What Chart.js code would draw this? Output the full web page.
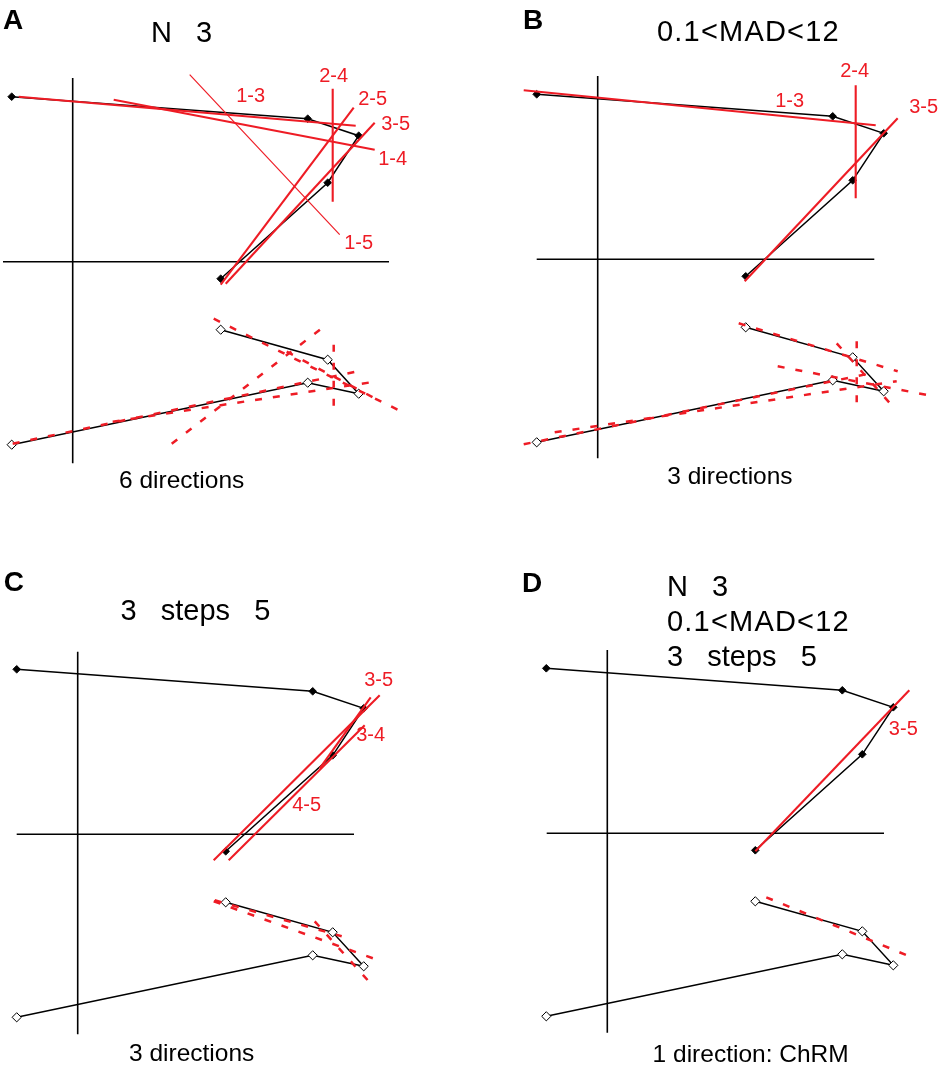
<!DOCTYPE html>
<html lang="en">
<head>
    <meta charset="UTF-8">
    <title>Zijderveld diagrams - fit selection</title>
    <style>
        body { margin: 0; background: #fff; }
        #page { position: relative; width: 945px; height: 1068px; overflow: hidden; font-family: Arial, "Liberation Sans", Helvetica, sans-serif; color: #000; }
        #page canvas { position: absolute; }
        .t { position: absolute; line-height: 1; white-space: pre; }
        .letter { font-size: 28px; font-weight: bold; }
        .title { font-size: 29px; }
        .caption { font-size: 24.5px; }
        .mad { letter-spacing: 1.2px; }
    </style>
</head>
<body>
<div id="page">
    <canvas id="chartA" width="472" height="534" style="left:0;top:0"></canvas>
    <canvas id="chartB" width="473" height="534" style="left:472px;top:0"></canvas>
    <canvas id="chartC" width="472" height="534" style="left:0;top:534px"></canvas>
    <canvas id="chartD" width="473" height="534" style="left:472px;top:534px"></canvas>

    <div class="t letter" style="left:3px;top:6.3px">A</div>
    <div class="t letter" style="left:523px;top:6.3px">B</div>
    <div class="t letter" style="left:3.8px;top:567.6px">C</div>
    <div class="t letter" style="left:522px;top:569px">D</div>

    <div class="t title" style="left:151px;top:18.1px">N   3</div>
    <div class="t title mad" style="left:657px;top:17.1px">0.1&lt;MAD&lt;12</div>
    <div class="t title" style="left:120.5px;top:595.5px">3   steps   5</div>
    <div class="t title" style="left:667px;top:568.5px;line-height:35px">N   3<br><span class="mad">0.1&lt;MAD&lt;12</span><br>3   steps   5</div>

    <div class="t caption" style="left:119px;top:467.6px">6 directions</div>
    <div class="t caption" style="left:667.3px;top:464.3px">3 directions</div>
    <div class="t caption" style="left:129px;top:1041px">3 directions</div>
    <div class="t caption" style="left:652.6px;top:1042px">1 direction: ChRM</div>
</div>

<script src="https://cdn.jsdelivr.net/npm/chart.js@4.4.1/dist/chart.umd.min.js"></script>
<script>

    // demagnetization steps 1..5 (same specimen in every panel)
    const steps = ['1', '2', '3', '4', '5'];
    const xVals = [-6.1, 23.5, 28.6, 25.5, 14.8];   // shared axis
    const yVals = [16.5, 14.3, 12.6, 7.9, -1.7];    // horizontal projection
    const zVals = [-18.3, -12.1, -13.2, -9.8, -6.8]; // vertical projection

    // fitted directions: [x1, y1, x2, y2] in the horizontal plane, [x1, z1, x2, z2] in the vertical plane
    const fitNamesA = ['1-3', '1-4', '1-5', '2-4', '2-5', '3-5'];
    const fitHorA = [
        [-5.4, 16.5, 28.3, 13.6],
        [4.1, 16.2, 30.2, 11.2],
        [11.7, 18.7, 26.7, 2.7],
        [26.0, 17.3, 26.0, 6.0],
        [28.1, 15.4, 14.8, -2.3],
        [30.2, 13.9, 15.3, -2.2]
    ];
    const fitVerA = [
        [-6.0, -18.2, 28.3, -11.0],
        [4.0, -16.0, 30.2, -12.0],
        [9.9, -18.2, 25.1, -6.5],
        [26.1, -8.3, 26.1, -14.7],
        [21.4, -9.0, 30.1, -13.6],
        [14.1, -5.7, 32.9, -15.0]
    ];
    const labelPosA = [[17.8, 16.5], [32.0, 10.2], [28.6, 1.8], [26.1, 18.5], [30.0, 16.2], [32.3, 13.7]];

    const fitNamesB = ['1-3', '2-4', '3-5'];
    const fitHorB = [
        [-7.4, 16.9, 27.8, 13.4],
        [25.8, 17.4, 25.8, 6.1],
        [30.0, 14.1, 14.7, -2.2]
    ];
    const fitVerB = [
        [-7.4, -18.5, 27.8, -11.3],
        [-4.3, -17.3, 29.9, -12.2],
        [25.9, -8.2, 25.9, -14.6],
        [14.1, -6.4, 30.0, -11.2],
        [23.9, -8.4, 29.4, -14.6],
        [18.0, -10.7, 33.1, -13.6]
    ];
    const labelPosB = [[19.2, 15.8], [25.7, 18.8], [32.6, 15.2]];

    const fitNamesC = ['3-5', '3-4', '4-5'];
    const fitHorC = [
        [30.2, 13.9, 13.6, -2.6],
        [29.3, 13.7, 24.2, 6.6],
        [28.7, 10.9, 15.1, -2.6]
    ];
    const fitVerC = [
        [13.6, -6.7, 30.1, -12.6],
        [23.7, -8.7, 29.1, -14.7],
        [13.7, -6.6, 26.4, -10.2]
    ];
    const labelPosC = [[30.1, 15.4], [29.3, 9.9], [22.9, 2.9]];

    const fitNamesD = ['3-5'];
    const fitHorD = [[30.2, 14.3, 14.8, -1.8]];
    const fitVerD = [[15.9, -6.4, 30.2, -12.3]];
    const labelPosD = [[29.6, 10.4]];

    const RED = '#ee1c25';

    // axis cross through the origin, with its own length on each side
    const axisCross = {
        id: 'axisCross',
        beforeDatasetsDraw(chart, args, opts) {
            const ctx = chart.ctx;
            const xs = chart.scales.x, ys = chart.scales.y;
            const x0 = xs.getPixelForValue(0), y0 = ys.getPixelForValue(0);
            ctx.save();
            ctx.strokeStyle = '#000';
            ctx.lineWidth = 1.6;
            ctx.beginPath();
            ctx.moveTo(xs.getPixelForValue(opts.h[0]), y0);
            ctx.lineTo(xs.getPixelForValue(opts.h[1]), y0);
            ctx.moveTo(x0, ys.getPixelForValue(opts.v[0]));
            ctx.lineTo(x0, ys.getPixelForValue(opts.v[1]));
            ctx.stroke();
            ctx.restore();
        }
    };

    // draws the "i-j" names of the fits
    const fitLabels = {
        id: 'fitLabels',
        afterDatasetsDraw(chart, args, opts) {
            const ctx = chart.ctx;
            const xs = chart.scales.x, ys = chart.scales.y;
            ctx.save();
            ctx.fillStyle = RED;
            ctx.font = '20px Arial, "Liberation Sans", sans-serif';
            ctx.textAlign = 'center';
            ctx.textBaseline = 'middle';
            opts.names.forEach((name, i) => {
                ctx.fillText(name, xs.getPixelForValue(opts.pos[i][0]), ys.getPixelForValue(opts.pos[i][1]));
            });
            ctx.restore();
        }
    };

    function segment(f) {
        return [{ x: f[0], y: f[1] }, { x: f[2], y: f[3] }];
    }

    function buildDatasets(names, fitHor, fitVer, thin) {
        const ds = [];
        fitHor.forEach((f, i) => {
            ds.push({
                data: segment(f), showLine: true, order: 0,
                borderColor: RED, borderWidth: thin.includes(names[i]) ? 1.2 : 2.1, pointRadius: 0
            });
        });
        fitVer.forEach(f => {
            ds.push({
                data: segment(f), showLine: true, order: 0,
                borderColor: RED, borderWidth: 2.5, borderDash: [7, 11], pointRadius: 0
            });
        });
        // horizontal projection: filled diamonds
        ds.push({
            data: steps.map((s, i) => ({ x: xVals[i], y: yVals[i] })),
            showLine: true, order: 1,
            borderColor: '#000', borderWidth: 1.5,
            pointStyle: 'rectRot', pointRadius: 3.8, pointBackgroundColor: '#000', pointBorderColor: '#000', pointBorderWidth: 1
        });
        // vertical projection: open diamonds
        ds.push({
            data: steps.map((s, i) => ({ x: xVals[i], y: zVals[i] })),
            showLine: true, order: 1,
            borderColor: '#000', borderWidth: 1.5,
            pointStyle: 'rectRot', pointRadius: 4.6, pointBackgroundColor: '#fff', pointBorderColor: '#000', pointBorderWidth: 1
        });
        return ds;
    }

    function makeChart(id, names, fitHor, fitVer, labelPos, thin, xRange, yRange, hAxis, vAxis) {
        new Chart(document.getElementById(id), {
            type: 'scatter',
            data: { datasets: buildDatasets(names, fitHor, fitVer, thin) },
            options: {
                responsive: false,
                animation: false,
                events: [],
                layout: { padding: 0, autoPadding: false },
                scales: {
                    x: { type: 'linear', display: false, min: xRange[0], max: xRange[1], bounds: 'data' },
                    y: { type: 'linear', display: false, min: yRange[0], max: yRange[1], bounds: 'data' }
                },
                plugins: {
                    legend: { display: false },
                    tooltip: { enabled: false },
                    axisCross: { h: hAxis, v: vAxis },
                    fitLabels: { names: names, pos: labelPos }
                }
            },
            plugins: [axisCross, fitLabels]
        });
    }

    // same scale (10 px per unit) in all four panels, origin placed per panel
    makeChart('chartA', fitNamesA, fitHorA, fitVerA, labelPosA, ['1-5'],
        [-7.27, 39.93], [-27.23, 26.17], [-6.97, 31.63], [-20.16, 18.37]);
    makeChart('chartB', fitNamesB, fitHorB, fitVerB, labelPosB, [],
        [-12.57, 34.73], [-27.47, 25.93], [-6.1, 27.66], [-19.9, 18.33]);
    makeChart('chartC', fitNamesC, fitHorC, fitVerC, labelPosC, [],
        [-7.77, 39.43], [-23.37, 30.03], [-6.1, 27.63], [-20.0, 18.26]);
    makeChart('chartD', fitNamesD, fitHorD, fitVerD, labelPosD, [],
        [-13.53, 33.77], [-23.47, 29.93], [-6.06, 27.67], [-19.94, 18.33]);

</script>
</body>
</html>
